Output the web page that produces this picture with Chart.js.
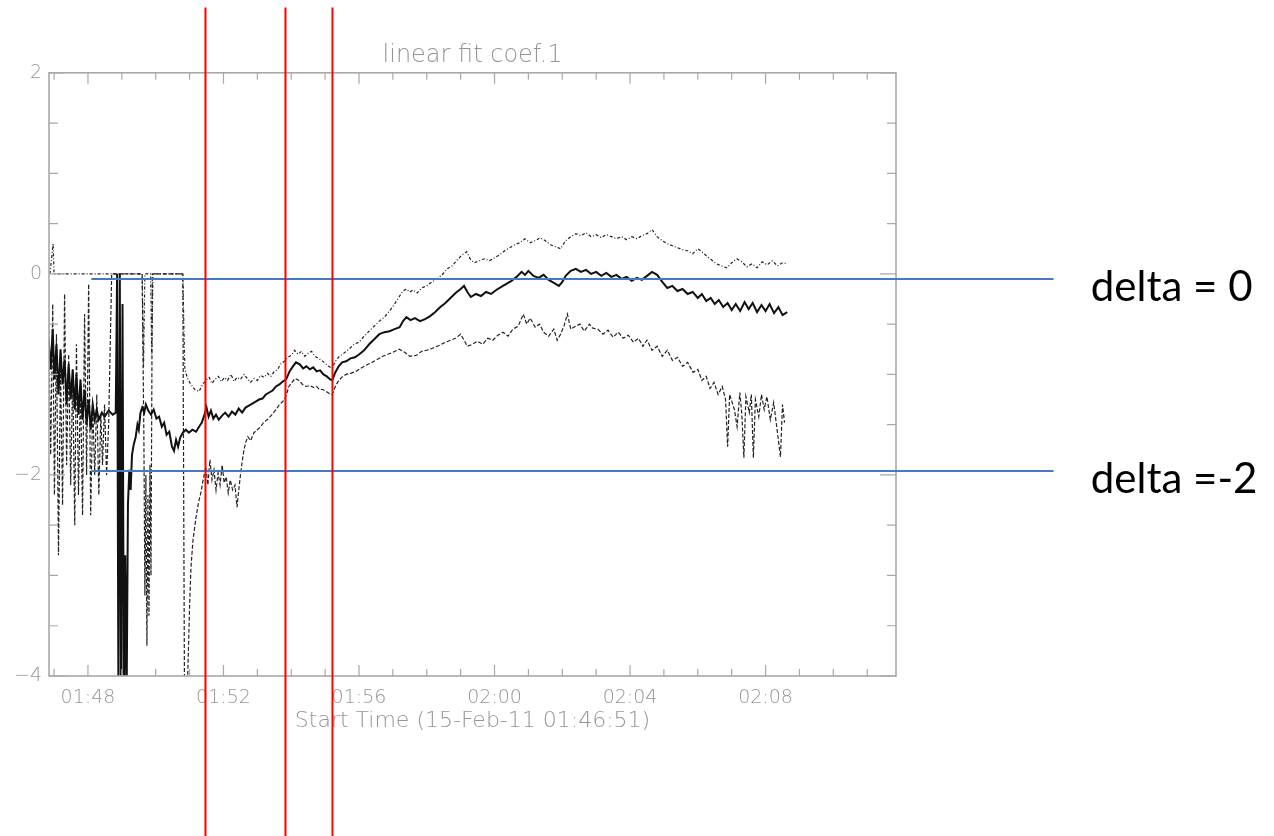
<!DOCTYPE html>
<html>
<head>
<meta charset="utf-8">
<title>linear fit coef.1</title>
<script src="https://cdn.jsdelivr.net/npm/chart.js@4.4.1/dist/chart.umd.min.js"></script>
<style>
  html, body { margin: 0; padding: 0; background: #fff; }
  #wrap { width: 1274px; height: 836px; }
</style>
</head>
<body>
<div id="wrap"><canvas id="fitChart" width="1274" height="836"></canvas></div>
<script>
'use strict';

// time axis in minutes after midnight (01:48 = 108)
const xMin = 106.85, xMax = 131.85;
const xTickValues = [108, 112, 116, 120, 124, 128];
const yTickValues = [-4, -2, 0, 2];

// upper curve (dash-dot)
const upperMinutes = [106.88, 106.97, 107.00, 109.60, 109.64, 109.68, 109.85, 109.88, 109.92, 110.80, 110.83, 110.86, 110.95, 111.04, 111.15, 111.28, 111.38, 111.48, 111.58, 111.66, 111.75, 111.85, 111.94, 112.03, 112.12, 112.22, 112.31, 112.40, 112.50, 112.61, 112.70, 112.80, 112.90, 113.00, 113.10, 113.20, 113.30, 113.40, 113.50, 113.60, 113.70, 113.80, 113.90, 114.00, 114.10, 114.20, 114.30, 114.40, 114.50, 114.60, 114.70, 114.80, 114.90, 115.00, 115.10, 115.21, 115.30, 115.42, 115.55, 115.70, 115.85, 116.00, 116.15, 116.30, 116.45, 116.60, 116.75, 116.90, 117.05, 117.20, 117.30, 117.40, 117.50, 117.60, 117.72, 117.85, 118.00, 118.15, 118.30, 118.45, 118.60, 118.75, 118.90, 119.05, 119.18, 119.28, 119.40, 119.55, 119.70, 119.85, 120.00, 120.15, 120.30, 120.45, 120.60, 120.75, 120.90, 121.05, 121.20, 121.35, 121.50, 121.65, 121.80, 121.95, 122.10, 122.25, 122.40, 122.55, 122.70, 122.85, 123.00, 123.15, 123.30, 123.45, 123.60, 123.75, 123.90, 124.05, 124.20, 124.35, 124.50, 124.65, 124.80, 124.95, 125.10, 125.25, 125.40, 125.55, 125.70, 125.85, 126.00, 126.12, 126.25, 126.40, 126.55, 126.70, 126.85, 127.00, 127.15, 127.30, 127.45, 127.60, 127.75, 127.90, 128.05, 128.20, 128.35, 128.50, 128.64];
const upperCoef = [0, 0.30, 0, 0, -0.93, 0, 0, -0.80, 0, 0, -0.50, -0.95, -1.05, -1.10, -1.15, -1.17, -1.10, -1.06, -1.03, -1.09, -1.05, -1.02, -1.07, -1.03, -1.06, -1.00, -1.07, -1.03, -1.05, -1.00, -1.04, -1.08, -1.04, -1.06, -1.01, -1.03, -0.99, -1.02, -0.97, -0.95, -0.89, -0.87, -0.83, -0.81, -0.76, -0.80, -0.77, -0.82, -0.79, -0.77, -0.82, -0.84, -0.86, -0.89, -0.92, -0.94, -0.87, -0.82, -0.79, -0.75, -0.70, -0.68, -0.62, -0.57, -0.52, -0.47, -0.43, -0.37, -0.30, -0.22, -0.17, -0.15, -0.18, -0.16, -0.19, -0.14, -0.12, -0.08, -0.05, -0.01, 0.05, 0.08, 0.14, 0.19, 0.22, 0.15, 0.11, 0.13, 0.15, 0.13, 0.16, 0.19, 0.23, 0.26, 0.29, 0.31, 0.35, 0.31, 0.33, 0.36, 0.33, 0.29, 0.27, 0.25, 0.33, 0.37, 0.40, 0.38, 0.41, 0.37, 0.39, 0.36, 0.39, 0.37, 0.35, 0.37, 0.34, 0.37, 0.35, 0.38, 0.40, 0.44, 0.37, 0.33, 0.30, 0.28, 0.26, 0.24, 0.23, 0.20, 0.25, 0.22, 0.18, 0.14, 0.10, 0.08, 0.06, 0.11, 0.15, 0.12, 0.07, 0.10, 0.06, 0.12, 0.09, 0.13, 0.08, 0.11, 0.10];

// middle curve (solid)
const middleMinutes = [106.84, 106.90, 106.96, 107.01, 107.07, 107.13, 107.19, 107.25, 107.31, 107.37, 107.43, 107.49, 107.55, 107.61, 107.66, 107.72, 107.78, 107.84, 107.90, 107.96, 108.02, 108.08, 108.14, 108.20, 108.26, 108.32, 108.41, 108.49, 108.61, 108.73, 108.82, 108.86, 108.90, 108.94, 108.98, 109.02, 109.06, 109.10, 109.14, 109.18, 109.22, 109.26, 109.30, 109.35, 109.41, 109.46, 109.50, 109.55, 109.60, 109.66, 109.71, 109.78, 109.86, 109.94, 110.02, 110.10, 110.18, 110.25, 110.32, 110.40, 110.48, 110.54, 110.60, 110.66, 110.72, 110.80, 110.89, 110.98, 111.08, 111.19, 111.28, 111.36, 111.44, 111.50, 111.56, 111.63, 111.70, 111.78, 111.86, 111.96, 112.05, 112.15, 112.25, 112.35, 112.45, 112.55, 112.65, 112.75, 112.85, 112.95, 113.05, 113.15, 113.25, 113.35, 113.45, 113.55, 113.65, 113.75, 113.85, 113.95, 114.05, 114.14, 114.25, 114.35, 114.45, 114.55, 114.65, 114.75, 114.85, 114.95, 115.05, 115.15, 115.21, 115.30, 115.40, 115.50, 115.62, 115.75, 115.88, 116.01, 116.15, 116.30, 116.45, 116.60, 116.75, 116.90, 117.05, 117.20, 117.30, 117.40, 117.52, 117.65, 117.80, 117.95, 118.10, 118.25, 118.40, 118.55, 118.70, 118.85, 119.00, 119.10, 119.20, 119.30, 119.45, 119.60, 119.75, 119.90, 120.05, 120.20, 120.35, 120.50, 120.65, 120.80, 120.90, 121.00, 121.15, 121.30, 121.45, 121.60, 121.75, 121.90, 122.00, 122.10, 122.25, 122.40, 122.55, 122.70, 122.85, 123.00, 123.15, 123.30, 123.45, 123.60, 123.75, 123.90, 124.05, 124.20, 124.35, 124.50, 124.65, 124.80, 124.95, 125.10, 125.25, 125.40, 125.55, 125.70, 125.85, 126.00, 126.12, 126.25, 126.38, 126.50, 126.62, 126.75, 126.88, 127.00, 127.12, 127.25, 127.38, 127.50, 127.62, 127.75, 127.88, 128.00, 128.12, 128.25, 128.38, 128.50, 128.64];
const middleCoef = [-0.65, -0.95, -0.55, -1.05, -0.70, -1.20, -0.75, -1.10, -0.85, -1.30, -0.90, -1.25, -0.95, -1.35, -1.00, -1.40, -1.05, -1.45, -1.15, -1.50, -1.25, -1.55, -1.30, -1.45, -1.35, -1.45, -1.38, -1.42, -1.36, -1.40, -1.38, 0, -4.30, 0, -4.30, -0.30, -4.30, -2.80, -4.30, -2.30, -1.95, -2.15, -1.80, -1.70, -1.62, -1.50, -1.55, -1.38, -1.33, -1.38, -1.30, -1.36, -1.40, -1.35, -1.44, -1.42, -1.52, -1.48, -1.60, -1.57, -1.72, -1.76, -1.65, -1.72, -1.63, -1.58, -1.55, -1.58, -1.55, -1.57, -1.52, -1.48, -1.40, -1.33, -1.42, -1.36, -1.44, -1.40, -1.45, -1.41, -1.38, -1.42, -1.37, -1.40, -1.34, -1.38, -1.33, -1.31, -1.29, -1.27, -1.25, -1.24, -1.20, -1.18, -1.16, -1.12, -1.10, -1.07, -1.05, -0.97, -0.92, -0.88, -0.90, -0.94, -0.92, -0.95, -0.93, -0.97, -0.96, -1.00, -1.02, -1.05, -1.06, -0.98, -0.92, -0.88, -0.87, -0.84, -0.83, -0.80, -0.76, -0.70, -0.65, -0.60, -0.58, -0.57, -0.55, -0.53, -0.47, -0.43, -0.46, -0.44, -0.47, -0.45, -0.42, -0.38, -0.33, -0.29, -0.24, -0.19, -0.15, -0.12, -0.18, -0.23, -0.20, -0.22, -0.18, -0.20, -0.16, -0.13, -0.10, -0.07, -0.03, 0.02, -0.01, 0.03, -0.02, -0.04, -0.01, -0.06, -0.09, -0.12, -0.08, -0.02, 0.03, 0.05, 0.02, 0.04, 0.00, 0.02, -0.02, 0.01, -0.03, -0.01, -0.05, -0.03, -0.07, -0.04, -0.06, -0.02, 0.02, -0.01, -0.08, -0.14, -0.12, -0.17, -0.15, -0.20, -0.18, -0.24, -0.20, -0.27, -0.24, -0.30, -0.26, -0.33, -0.29, -0.36, -0.30, -0.37, -0.28, -0.35, -0.29, -0.38, -0.31, -0.37, -0.30, -0.39, -0.33, -0.41, -0.38];

// lower curve (dashed)
const lowerMinutes = [106.84, 106.90, 106.96, 107.01, 107.07, 107.13, 107.19, 107.25, 107.31, 107.37, 107.43, 107.49, 107.55, 107.61, 107.66, 107.72, 107.78, 107.84, 107.90, 107.96, 108.02, 108.08, 108.14, 108.20, 108.26, 108.32, 108.38, 108.43, 108.49, 108.55, 108.61, 108.70, 109.60, 109.65, 109.68, 109.71, 109.74, 109.77, 109.80, 109.83, 109.86, 109.90, 110.80, 110.85, 110.92, 111.00, 111.04, 111.10, 111.19, 111.26, 111.33, 111.40, 111.48, 111.54, 111.60, 111.66, 111.72, 111.78, 111.84, 111.90, 111.96, 112.02, 112.08, 112.14, 112.20, 112.27, 112.34, 112.40, 112.46, 112.52, 112.58, 112.65, 112.72, 112.80, 112.90, 113.00, 113.10, 113.20, 113.30, 113.43, 113.55, 113.65, 113.75, 113.84, 113.93, 114.02, 114.12, 114.23, 114.33, 114.44, 114.55, 114.65, 114.75, 114.83, 114.93, 115.03, 115.12, 115.21, 115.30, 115.40, 115.52, 115.62, 115.75, 115.91, 116.05, 116.20, 116.39, 116.55, 116.70, 116.85, 117.00, 117.19, 117.35, 117.50, 117.70, 117.85, 118.00, 118.17, 118.38, 118.55, 118.70, 118.85, 119.00, 119.10, 119.20, 119.35, 119.50, 119.65, 119.80, 119.95, 120.10, 120.25, 120.40, 120.54, 120.70, 120.85, 120.95, 121.05, 121.20, 121.33, 121.45, 121.60, 121.75, 121.85, 121.95, 122.05, 122.15, 122.25, 122.40, 122.52, 122.65, 122.80, 122.90, 123.05, 123.20, 123.35, 123.50, 123.65, 123.80, 123.95, 124.10, 124.25, 124.38, 124.50, 124.65, 124.80, 124.95, 125.10, 125.25, 125.40, 125.55, 125.70, 125.86, 126.00, 126.12, 126.25, 126.36, 126.48, 126.60, 126.72, 126.82, 126.88, 126.94, 127.08, 127.16, 127.24, 127.30, 127.36, 127.42, 127.52, 127.58, 127.64, 127.70, 127.80, 127.88, 127.96, 128.04, 128.14, 128.24, 128.34, 128.44, 128.50, 128.56, 128.64];
const lowerCoef = [-0.50, -1.80, -0.30, -2.20, -0.60, -2.80, -0.90, -2.30, -0.20, -1.90, -0.80, -2.10, -1.00, -2.50, -0.70, -2.20, -1.10, -2.40, -0.40, -2.00, -0.10, -2.40, -1.30, -2.00, -1.20, -2.20, -1.40, -1.90, -1.30, -2.00, -1.50, 0, 0, -1.60, -3.20, -2.00, -3.70, -2.20, -3.40, -1.90, -3.00, 0, 0, -4.30, -4.30, -3.30, -2.92, -2.65, -2.42, -2.28, -2.18, -2.05, -1.92, -2.10, -1.85, -2.05, -1.95, -2.15, -1.98, -2.10, -1.90, -2.08, -2.02, -2.18, -2.05, -2.15, -2.10, -2.32, -2.12, -1.95, -1.80, -1.68, -1.62, -1.66, -1.58, -1.55, -1.52, -1.47, -1.45, -1.40, -1.35, -1.30, -1.27, -1.22, -1.12, -1.08, -1.04, -1.06, -1.10, -1.12, -1.11, -1.13, -1.12, -1.15, -1.15, -1.17, -1.19, -1.20, -1.12, -1.06, -1.02, -1.00, -0.99, -0.97, -0.94, -0.91, -0.88, -0.85, -0.82, -0.80, -0.78, -0.75, -0.78, -0.82, -0.81, -0.77, -0.76, -0.74, -0.71, -0.68, -0.66, -0.64, -0.60, -0.66, -0.72, -0.70, -0.67, -0.70, -0.64, -0.66, -0.61, -0.58, -0.62, -0.55, -0.52, -0.40, -0.50, -0.44, -0.53, -0.50, -0.58, -0.62, -0.55, -0.66, -0.60, -0.52, -0.40, -0.55, -0.52, -0.50, -0.57, -0.50, -0.54, -0.55, -0.60, -0.56, -0.63, -0.58, -0.64, -0.61, -0.68, -0.64, -0.72, -0.66, -0.76, -0.72, -0.82, -0.76, -0.86, -0.83, -0.92, -0.88, -0.98, -0.95, -1.06, -1.02, -1.14, -1.08, -1.20, -1.12, -1.25, -1.72, -1.20, -1.35, -1.52, -1.18, -1.40, -1.83, -1.22, -1.38, -1.20, -1.83, -1.25, -1.42, -1.20, -1.35, -1.22, -1.45, -1.28, -1.55, -1.82, -1.30, -1.48];

// hand-drawn overlay: red time markers, blue delta levels
const markerMinutes = [111.46, 113.82, 115.21];
const markerTop = 2.65;
const deltaLevels = [-0.05, -1.96];
const deltaLabels = ['delta = 0', 'delta =-2'];
const deltaLineFrom = 108.1, deltaLineTo = 136.5, deltaLabelAt = 137.6;

// colours
const inkColor = '#111',
  frameColor = '#a8a8a8',
  textColor = '#959595',
  markerColor = '#ff0000',
  deltaColor = '#4a78bf';

const fontFamily = '"DejaVu Sans", sans-serif';
const axisFont = { family: fontFamily, size: 19, weight: 200 };

function pairs(xs, ys) {
  return xs.map((x, i) => ({ x: x, y: ys[i] }));
}

function clock(v) {
  const h = Math.floor(v / 60);
  const m = Math.round(v - h * 60);
  return String(h).padStart(2, '0') + ':' + String(m).padStart(2, '0');
}

// IDL style frame with inward ticks on all four sides, plus the overlay lines
const idlFrame = {
  id: 'idlFrame',
  afterDraw(chart) {
    const { ctx, chartArea: a, scales: { x, y } } = chart;
    ctx.save();
    ctx.strokeStyle = frameColor;
    ctx.lineWidth = 1.6;
    ctx.strokeRect(a.left, a.top, a.right - a.left, a.bottom - a.top);
    ctx.lineWidth = 1.2;
    ctx.beginPath();
    for (let m = Math.ceil(xMin); m <= xMax; m++) {
      const px = x.getPixelForValue(m);
      const len = m % 4 === 0 ? 11 : 7;
      ctx.moveTo(px, a.bottom); ctx.lineTo(px, a.bottom - len);
      ctx.moveTo(px, a.top); ctx.lineTo(px, a.top + len);
    }
    for (let v = -4; v <= 2; v += 0.5) {
      const py = y.getPixelForValue(v);
      const len = v % 2 === 0 ? 16 : 9;
      ctx.moveTo(a.left, py); ctx.lineTo(a.left + len, py);
      ctx.moveTo(a.right, py); ctx.lineTo(a.right - len, py);
    }
    ctx.stroke();

    // blue delta lines and labels
    ctx.strokeStyle = deltaColor;
    ctx.lineWidth = 2;
    ctx.fillStyle = '#000';
    ctx.font = '42px Lato, "Open Sans", sans-serif';
    ctx.textBaseline = 'alphabetic';
    deltaLevels.forEach((lv, i) => {
      const py = y.getPixelForValue(lv);
      ctx.beginPath();
      ctx.moveTo(x.getPixelForValue(deltaLineFrom), py);
      ctx.lineTo(x.getPixelForValue(deltaLineTo), py);
      ctx.stroke();
      ctx.fillText(deltaLabels[i], x.getPixelForValue(deltaLabelAt), py + 22);
    });

    // red markers
    ctx.strokeStyle = markerColor;
    ctx.lineWidth = 2;
    markerMinutes.forEach(m => {
      const px = Math.round(x.getPixelForValue(m)) + 0.5;
      ctx.beginPath();
      ctx.moveTo(px, y.getPixelForValue(markerTop));
      ctx.lineTo(px, chart.height);
      ctx.stroke();
    });
    ctx.restore();
  }
};

const fitChart = new Chart(document.getElementById('fitChart'), {
  type: 'line',
  data: {
    datasets: [
      {
        label: 'upper',
        data: pairs(upperMinutes, upperCoef),
        borderColor: '#222',
        borderWidth: 1.2,
        borderDash: [3, 2, 1, 2],
        pointRadius: 0,
        tension: 0
      },
      {
        label: 'fit',
        data: pairs(middleMinutes, middleCoef),
        borderColor: inkColor,
        borderWidth: 2,
        pointRadius: 0,
        tension: 0
      },
      {
        label: 'lower',
        data: pairs(lowerMinutes, lowerCoef),
        borderColor: '#222',
        borderWidth: 1.2,
        borderDash: [4, 2],
        pointRadius: 0,
        tension: 0
      }
    ]
  },
  options: {
    responsive: false,
    animation: false,
    devicePixelRatio: 1,
    layout: { padding: { top: 41, right: 378, bottom: 102, left: 0 } },
    plugins: {
      legend: { display: false },
      tooltip: { enabled: false },
      title: {
        display: true,
        text: 'linear fit coef.1',
        fullSize: false,
        color: textColor,
        font: { family: fontFamily, size: 24, weight: 200 },
        padding: { top: 0, bottom: 3 }
      }
    },
    scales: {
      x: {
        type: 'linear',
        min: xMin,
        max: xMax,
        afterBuildTicks: axis => { axis.ticks = xTickValues.map(v => ({ value: v })); },
        afterFit: axis => { axis.height = 58; },
        grid: { display: false, drawTicks: false },
        border: { display: false },
        ticks: {
          color: textColor,
          font: axisFont,
          padding: 11,
          maxRotation: 0,
          autoSkip: false,
          callback: v => clock(v)
        },
        title: {
          display: true,
          text: 'Start Time (15-Feb-11 01:46:51)',
          color: textColor,
          font: { family: fontFamily, size: 22, weight: 200 },
          padding: { top: 0, bottom: 0 }
        }
      },
      y: {
        min: -4,
        max: 2,
        afterBuildTicks: axis => { axis.ticks = yTickValues.map(v => ({ value: v })); },
        afterFit: axis => { axis.width = 49; },
        grid: { display: false, drawTicks: false },
        border: { display: false },
        ticks: {
          color: textColor,
          font: axisFont,
          padding: 7,
          callback: v => (v < 0 ? '\u2212' + Math.abs(v) : String(v))
        }
      }
    }
  },
  plugins: [idlFrame]
});
</script>
</body>
</html>
